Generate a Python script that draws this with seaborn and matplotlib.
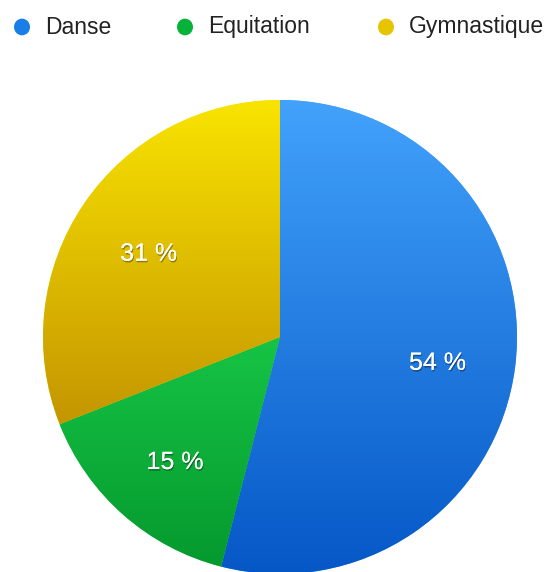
import matplotlib
matplotlib.use("Agg")
import matplotlib.pyplot as plt
import matplotlib.patheffects as pe
from matplotlib.colors import LinearSegmentedColormap
import seaborn as sns
import numpy as np

# données
activites = ["Danse", "Equitation", "Gymnastique"]
parts = [54, 15, 31]
etiquettes = ["54 %", "15 %", "31 %"]
# dégradés haut -> bas pour chaque part
degrades = [("#42a2fb", "#0557c6"), ("#16c445", "#05992e"), ("#f9e400", "#c49500")]
couleurs_legende = ["#1a7ee8", "#07b23a", "#e6c400"]

sns.set_theme(style="white")
plt.rcParams["font.family"] = ["Liberation Sans", "DejaVu Sans"]

W, H = 548, 572
fig = plt.figure(figsize=(W / 100, H / 100), dpi=100)
cx, cy, r = 280, 337, 237
ax = fig.add_axes([(cx - r) / W, (H - cy - r) / H, 2 * r / W, 2 * r / H])

wedges, textes = ax.pie(parts, startangle=90, counterclock=False, radius=1,
                        colors=[d[0] for d in degrades],
                        wedgeprops=dict(linewidth=0))
ax.set_xlim(-1, 1)
ax.set_ylim(-1, 1)
ax.set_aspect("equal")
ax.axis("off")

# dégradé vertical par part, découpé sur la forme de la part
grad = np.linspace(0, 1, 256).reshape(-1, 1)
for w, (haut, bas) in zip(wedges, degrades):
    cmap = LinearSegmentedColormap.from_list("g", [haut, bas])
    verts = w.get_path().vertices
    tr = w.get_patch_transform().transform(verts)
    y0, y1 = tr[:, 1].min(), tr[:, 1].max()
    im = ax.imshow(grad, cmap=cmap, extent=[-1, 1, y0, y1], origin="upper",
                   aspect="auto", zorder=w.get_zorder() + 0.1)
    im.set_clip_path(w)

# étiquettes de pourcentage
angle = 90.0
for p, lab in zip(parts, etiquettes):
    a = np.deg2rad(angle - p * 3.6 / 2)
    angle -= p * 3.6
    ax.text(0.67 * np.cos(a), 0.67 * np.sin(a) - 0.025, lab, ha="center", va="center",
            color="white", fontsize=18, zorder=10,
            path_effects=[pe.withSimplePatchShadow(offset=(0.6, -1.2), shadow_rgbFace="black", alpha=0.35),
                          pe.Normal()])

# légende en haut
xs = [22, 185, 386]
for x, nom, c in zip(xs, activites, couleurs_legende):
    fig.patches.append(plt.Circle((x / W, 1 - 27 / H), 8 / W, transform=fig.transFigure,
                                  facecolor=c, edgecolor="none"))
    fig.text((x + 23) / W, 1 - 27 / H, nom, ha="left", va="center",
             fontsize=16.5, color="#222222")

fig.savefig("out.png", dpi=100)
